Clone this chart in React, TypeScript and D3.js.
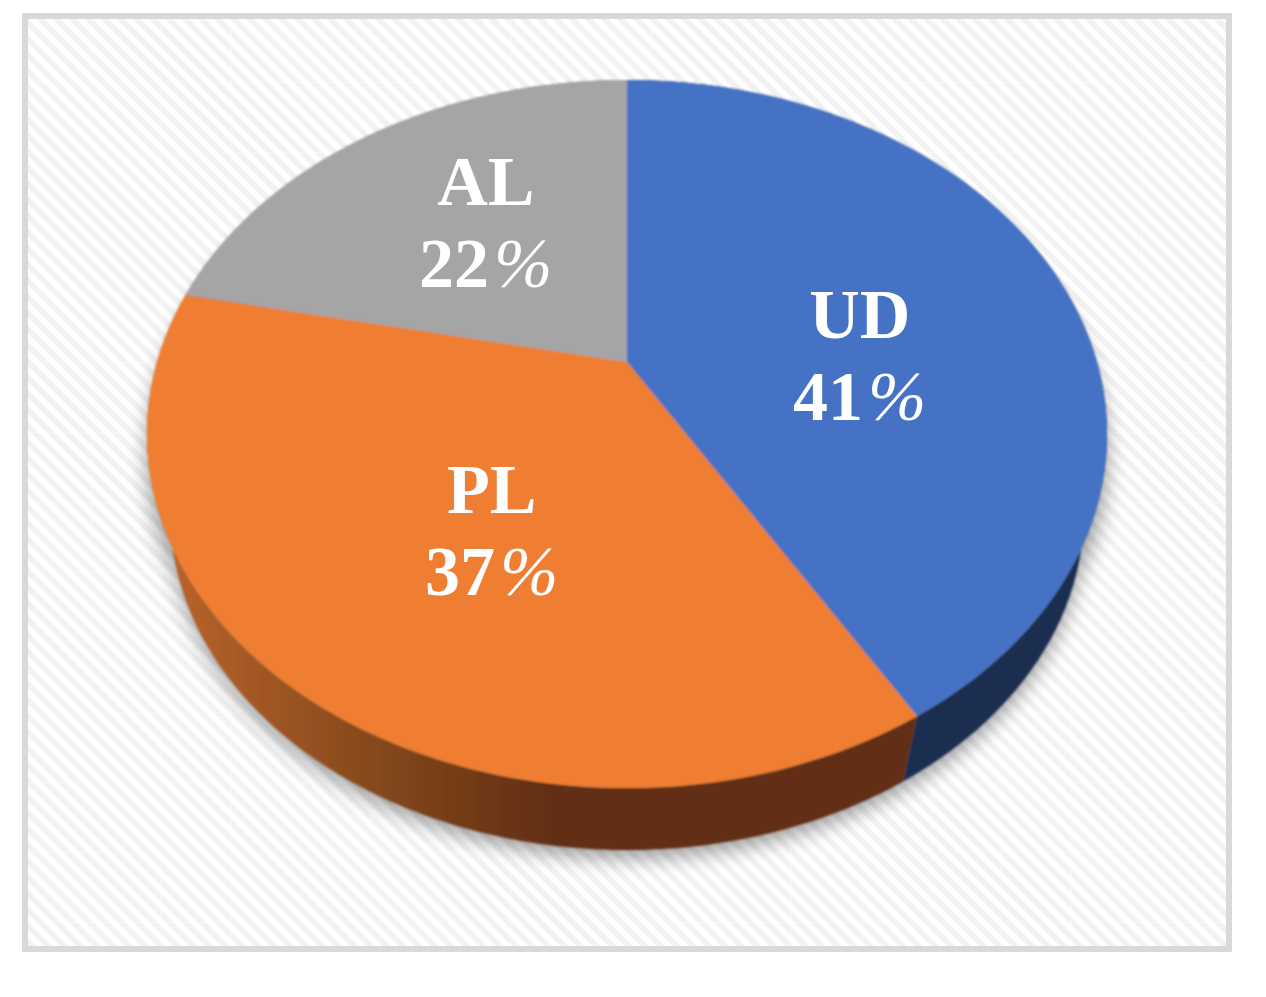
import React from "react";
import * as d3 from "d3";

// Printed percentages, and the wedge sizes.
const categories = ["UD", "PL", "AL"];
const percentLabels = [41, 37, 22];
const shares = [41.5, 36.8, 21.7];
const topColors = ["#4472c4", "#ef7e30", "#a5a5a5"];

const W = 1266;
const H = 997;

// Perspective disc: unit circle (u right, v toward the viewer) projected on the page.
const apex = { x: 627, y: 362 };
const tilt = 0.2034;
const scaleU = 470;
const scaleV = 339.4;
// The lower face is the upper one scaled toward a vanishing point.
const vanish = { x: 627, y: 2068 };
const depth = 0.9516;

type P = [number, number];
const project = (a: number, r = 1): P => {
  const u = Math.sin(a) * r;
  const v = -Math.cos(a) * r;
  const w = 1 - tilt * v;
  return [apex.x + (scaleU * u) / w, apex.y + (scaleV * v) / w];
};
const lower = ([x, y]: P): P => [
  vanish.x + depth * (x - vanish.x),
  vanish.y + depth * (y - vanish.y),
];
const samples = (a0: number, a1: number): number[] => {
  const n = Math.max(2, Math.ceil(Math.abs(a1 - a0) * 60));
  return d3.range(n + 1).map((i) => a0 + ((a1 - a0) * i) / n);
};
const line = d3.line<P>();

const pie = d3.pie<number>().sort(null).value((d) => d);
const slices = pie(shares);
const full = samples(0, Math.PI * 2);
const topDisc = (line(full.map((a) => project(a))) as string) + "Z";
const lowerDisc = (line(full.map((a) => lower(project(a)))) as string) + "Z";

const labelRadius = 0.5;
const labelNudge: P[] = [
  [12, 61],
  [14, 42],
  [-4, 6],
];
const sideFill = ["#1a2d50", "url(#orangeSide)", "#5f5f5f"];

export default function App() {
  return (
    <svg
      width={W}
      height={H}
      viewBox={`0 0 ${W} ${H}`}
      style={{ position: "absolute", left: 0, top: 0, background: "#fff" }}
    >
      <defs>
        <pattern id="hatch" width="11.4" height="11.4" patternUnits="userSpaceOnUse" patternTransform="translate(25 16) rotate(45)">
          <rect width="11.4" height="11.4" fill="#ffffff" />
          <rect width="11.4" height="5.7" fill="#f2f2f2" />
        </pattern>
        <pattern id="tiles" width="70" height="70" patternUnits="userSpaceOnUse" patternTransform="translate(21 12)">
          <path d="M0.5 0V70M0 0.5H70" stroke="#ffffff" strokeOpacity={0.35} fill="none" />
        </pattern>
        <linearGradient id="orangeSide" gradientUnits="userSpaceOnUse" x1="170" x2="550" y1="0" y2="0">
          <stop offset="0" stopColor="#b8632a" />
          <stop offset="0.55" stopColor="#84481c" />
          <stop offset="1" stopColor="#622f12" />
        </linearGradient>
        <filter id="shadowBlur" x="-10%" y="-10%" width="120%" height="120%">
          <feGaussianBlur stdDeviation="10" />
        </filter>
        <filter id="soft" x="-5%" y="-5%" width="110%" height="110%">
          <feGaussianBlur stdDeviation="0.9" />
        </filter>
      </defs>

      <rect x={25} y={16} width={1204} height={933} fill="url(#hatch)" />
      <rect x={25} y={16} width={1204} height={933} fill="url(#tiles)" stroke="#d9d9d9" strokeWidth={6} />

      <g filter="url(#shadowBlur)" opacity={0.38} fill="#000">
        <path d={topDisc} transform="translate(0 22)" />
        <path d={lowerDisc} transform="translate(0 8)" />
      </g>

      <g filter="url(#soft)">
        {slices.map((s, i) => {
          const top = samples(s.startAngle, s.endAngle).map((a) => project(a));
          return (
            <path
              key={`side-${categories[i]}`}
              d={(line([...top, ...top.map(lower).reverse()]) as string) + "Z"}
              fill={sideFill[i]}
            />
          );
        })}
        {slices.map((s, i) => (
          <path
            key={`top-${categories[i]}`}
            d={
              (line([
                [apex.x, apex.y] as P,
                ...samples(s.startAngle, s.endAngle).map((a) => project(a)),
              ]) as string) + "Z"
            }
            fill={topColors[i]}
          />
        ))}
      </g>

      {slices.map((s, i) => {
        const [x, y] = project((s.startAngle + s.endAngle) / 2, labelRadius);
        const lx = x + labelNudge[i][0];
        const ly = y + labelNudge[i][1];
        return (
          <text
            key={`label-${categories[i]}`}
            fontFamily="'Liberation Serif', serif"
            fontWeight="bold"
            fontSize={70}
            fill="#ffffff"
            textAnchor="middle"
          >
            <tspan x={lx} y={ly - 41}>{categories[i]}</tspan>
            <tspan x={lx} y={ly + 41}>
              {percentLabels[i]}
              <tspan dx={5} fontStyle="italic" fontWeight="normal">%</tspan>
            </tspan>
          </text>
        );
      })}
    </svg>
  );
}
